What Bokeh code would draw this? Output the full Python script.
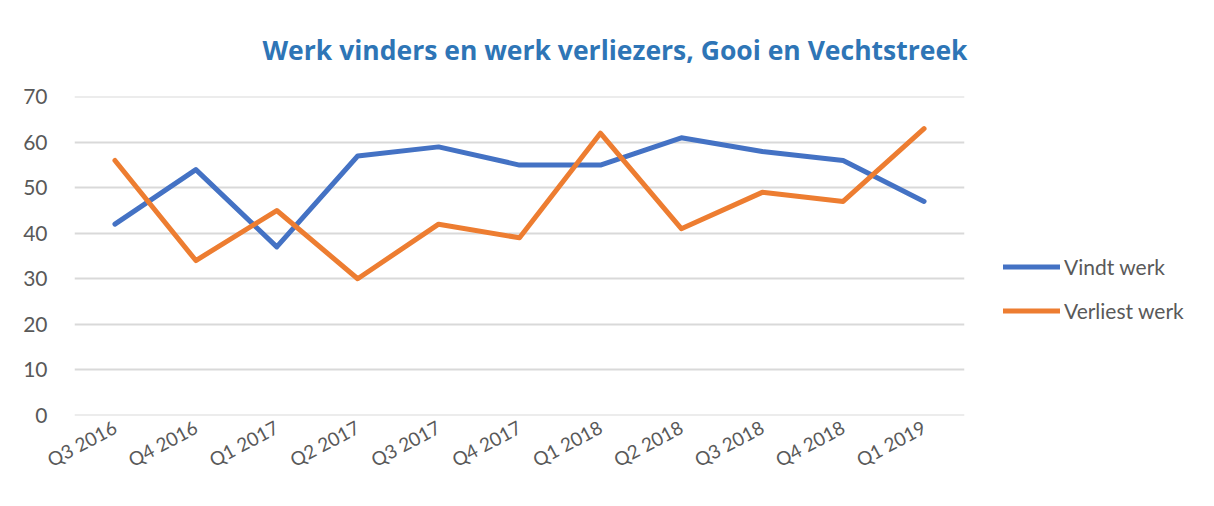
from bokeh.plotting import figure
from bokeh.layouts import row
from bokeh.models import Range1d, Legend, LegendItem, ColumnDataSource
from bokeh.embed import file_html
from bokeh.resources import INLINE
import math

quarters = ["Q3 2016", "Q4 2016", "Q1 2017", "Q2 2017", "Q3 2017", "Q4 2017",
            "Q1 2018", "Q2 2018", "Q3 2018", "Q4 2018", "Q1 2019"]
vindt_werk = [42, 54, 37, 57, 59, 55, 55, 61, 58, 56, 47]
verliest_werk = [56, 34, 45, 30, 42, 39, 62, 41, 49, 47, 63]
y_ticks = [0, 10, 20, 30, 40, 50, 60, 70]
series_names = ["Vindt werk", "Verliest werk"]
series_colors = ["#4472C4", "#ED7D31"]

FONT = "Lato"
TXT = "#595959"

p = figure(width=980, height=490, x_range=quarters, y_range=Range1d(-0.08, 70.08),
           output_backend="svg", toolbar_location=None,
           min_border_left=74, min_border_right=16, min_border_top=96, min_border_bottom=75)

p.title.text = "Werk vinders en werk verliezers, Gooi en Vechtstreek"
p.title.align = "left"
p.title.offset = 188
p.title.standoff = 58
p.title.text_font = "Open Sans"
p.title.text_font_size = "26.5px"
p.title.text_font_style = "bold"
p.title.text_color = "#2E75B6"

p.outline_line_color = None
p.background_fill_color = "white"
p.border_fill_color = "white"

p.xgrid.grid_line_color = None
p.ygrid.grid_line_color = "#D9D9D9"
p.ygrid.grid_line_width = 2

p.yaxis.ticker = y_ticks
p.yaxis.axis_line_color = None
p.yaxis.major_tick_line_color = None
p.yaxis.minor_tick_line_color = None
p.yaxis.major_label_standoff = 21
p.yaxis.major_label_text_font = FONT
p.yaxis.major_label_text_font_size = "21px"
p.yaxis.major_label_text_color = TXT

p.xaxis.axis_line_color = None
p.xaxis.major_tick_line_color = None
p.xaxis.minor_tick_line_color = None
p.xaxis.major_tick_out = 0
p.xaxis.major_tick_in = 0
p.xaxis.minor_tick_out = 0
p.xaxis.major_label_orientation = math.radians(28)
p.xaxis.major_label_standoff = 10
p.xaxis.major_label_text_font = FONT
p.xaxis.major_label_text_font_size = "19px"
p.xaxis.major_label_text_color = TXT

src = ColumnDataSource(dict(q=quarters, v=vindt_werk, l=verliest_werk))
r1 = p.line("q", "v", source=src, line_color=series_colors[0], line_width=5,
            line_join="round", line_cap="round")
r2 = p.line("q", "l", source=src, line_color=series_colors[1], line_width=5,
            line_join="round", line_cap="round")

# legend panel (separate figure to the right of the chart)
lg = figure(width=218, height=490, output_backend="svg", toolbar_location=None,
            x_range=Range1d(0, 1), y_range=Range1d(0, 1),
            min_border_left=0, min_border_right=0, min_border_top=0, min_border_bottom=0)
lg.axis.visible = False
lg.grid.visible = False
lg.outline_line_color = None
lg.border_fill_color = "white"
lg.background_fill_color = "white"
nan_src = ColumnDataSource(dict(x=[float("nan")], y=[float("nan")]))
items = []
for name, col in zip(series_names, series_colors):
    rr = lg.line("x", "y", source=nan_src, line_color=col, line_width=5, line_cap="round")
    items.append(LegendItem(label=name, renderers=[rr]))

legend = Legend(items=items, location=(23, 92), orientation="vertical",
                glyph_width=57, glyph_height=25, label_height=25, spacing=19,
                label_standoff=4, padding=0, margin=0,
                border_line_color=None, background_fill_alpha=0,
                label_text_font=FONT, label_text_font_size="21px",
                label_text_color=TXT)
lg.add_layout(legend, "center")

layout = row(p, lg, spacing=0)
open("out.html", "w").write(file_html(layout, INLINE))
